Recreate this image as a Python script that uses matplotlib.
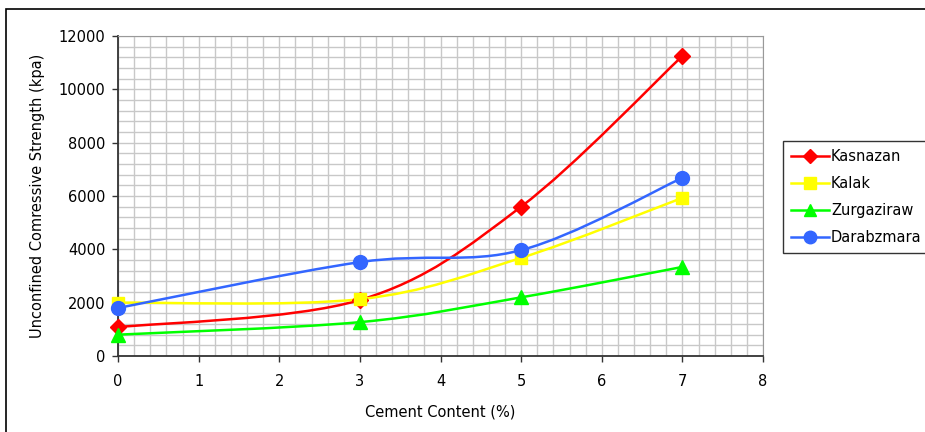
import matplotlib
matplotlib.use("Agg")
from matplotlib import pyplot as plt
from matplotlib.path import Path
from matplotlib.patches import PathPatch, Rectangle
from matplotlib.lines import Line2D
import numpy as np

plt.rcParams['font.family'] = ['DejaVu Sans']

# data
cement = [0, 3, 5, 7]
kasnazan = [1080, 2100, 5600, 11250]
kalak = [2000, 2130, 3680, 5930]
zurgaziraw = [800, 1270, 2200, 3340]
darabzmara = [1800, 3520, 3970, 6680]

series = [
    ("Kasnazan", kasnazan, "#ff0000", "D", 8),
    ("Kalak", kalak, "#ffff00", "s", 9),
    ("Zurgaziraw", zurgaziraw, "#00ff00", "^", 10),
    ("Darabzmara", darabzmara, "#3366ff", "o", 10),
]


def smooth_path(xs, ys):
    # excel style smoothed line: catmull-rom turned into bezier segments
    p = np.column_stack([xs, ys]).astype(float)
    n = len(p)
    verts = [p[0]]
    codes = [Path.MOVETO]
    for i in range(n - 1):
        p0 = p[i - 1] if i > 0 else p[i]
        p3 = p[i + 2] if i + 2 < n else p[i + 1]
        c1 = p[i] + (p[i + 1] - p0) / 6.0
        c2 = p[i + 1] - (p3 - p[i]) / 6.0
        verts += [c1, c2, p[i + 1]]
        codes += [Path.CURVE4] * 3
    return Path(verts, codes)


fig = plt.figure(figsize=(9.25, 4.32), dpi=100)
ax = fig.add_axes([118 / 925, 1 - 356 / 432, 645 / 925, 320 / 432])

# outer chart border
fig.patches.append(Rectangle((6 / 925, -0.1), 1.2, 1 - 9 / 432 + 0.1,
                             transform=fig.transFigure, fill=False,
                             edgecolor="black", linewidth=1.2))

handles = []
for name, vals, col, mk, ms in series:
    ax.add_patch(PathPatch(smooth_path(cement, vals), fill=False,
                           edgecolor=col, linewidth=1.8, zorder=3))
    ax.plot(cement, vals, linestyle="none", marker=mk, markersize=ms,
            color=col, zorder=4, clip_on=False)
    handles.append(Line2D([], [], color=col, linewidth=1.8, marker=mk,
                          markersize=ms - 1))

ax.set_xlim(0, 8)
ax.set_ylim(0, 12000)
ax.set_xticks(range(0, 9))
ax.set_yticks(range(0, 12001, 2000))
ax.set_xticks(np.arange(0, 8.01, 0.2), minor=True)
ax.set_yticks(range(0, 12001, 400), minor=True)
ax.tick_params(which="minor", length=0)
ax.tick_params(which="major", direction="out", length=4, width=1,
               colors="#333333", labelcolor="black", labelsize=10.5)
ax.tick_params(axis="x", pad=9)
ax.tick_params(axis="y", pad=5)
ax.grid(which="both", color="#c8c8c8", linewidth=1)
ax.set_axisbelow(True)

for s in ["top", "right"]:
    ax.spines[s].set_color("#999999")
for s in ["left", "bottom"]:
    ax.spines[s].set_color("#333333")
    ax.spines[s].set_linewidth(1.3)

ax.set_xlabel("Cement Content (%)", fontsize=10.5, labelpad=11)
ax.set_ylabel("Unconfined Comressive Strength (kpa)", fontsize=10.5, labelpad=10)

leg = fig.legend(handles, [s[0] for s in series], loc="upper left",
                 bbox_to_anchor=(783 / 925, 1 - 141 / 432), fontsize=10.5,
                 frameon=True, fancybox=False, edgecolor="black",
                 handlelength=2.6, borderaxespad=0, borderpad=0.55,
                 labelspacing=0.82, handletextpad=0.15, numpoints=1)
leg.get_frame().set_linewidth(1)

fig.savefig("out.png", dpi=100)
